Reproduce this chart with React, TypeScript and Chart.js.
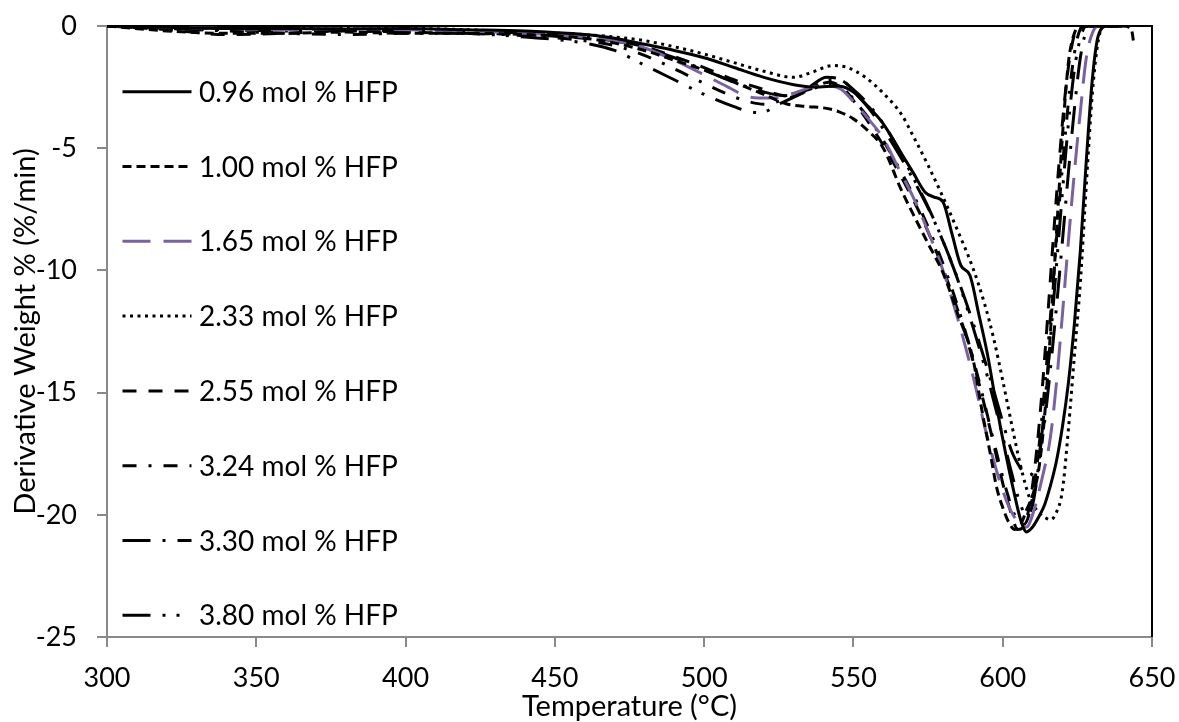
import React, { useEffect, useRef } from "react";
import { Chart, registerables } from "chart.js";

Chart.register(...registerables);

// ---------- DATA ----------
const seriesLabels = [
  "0.96 mol % HFP",
  "1.00 mol % HFP",
  "1.65 mol % HFP",
  "2.33 mol % HFP",
  "2.55 mol % HFP",
  "3.24 mol % HFP",
  "3.30 mol % HFP",
  "3.80 mol % HFP",
];

const xTicks = [300, 350, 400, 450, 500, 550, 600, 650];
const yTicks = [-25, -20, -15, -10, -5, 0];

const t096 = [300, 320, 340, 360, 380, 400, 420, 440, 460, 470, 480, 490, 500, 510, 520, 530, 537, 545, 550, 555, 560, 565, 570, 574, 577, 580, 583, 586, 589, 592, 595, 598, 601, 604, 606, 608, 610, 612, 614, 616, 618, 620, 622, 624, 626, 628, 630, 632, 635, 640];
const v096 = [0, -0.05, -0.1, -0.1, -0.12, -0.1, -0.15, -0.2, -0.35, -0.5, -0.75, -1.0, -1.3, -1.7, -2.1, -2.4, -2.5, -2.45, -2.7, -3.3, -4.0, -5.0, -6.0, -6.8, -7.0, -7.2, -8.5, -9.8, -10.2, -11.8, -13.5, -15.6, -17.5, -19.2, -20.2, -20.7, -20.5, -20.1, -19.6, -18.8, -17.8, -16.4, -14.6, -12.2, -9.2, -5.5, -2.2, -0.4, 0, 0];

const t100 = [300, 320, 340, 360, 380, 400, 420, 440, 460, 470, 480, 490, 500, 510, 520, 528, 535, 540, 545, 550, 555, 560, 566, 570, 575, 580, 585, 590, 593, 596, 598, 600, 602, 604, 606, 608, 610, 612, 614, 616, 618, 620, 622, 624, 626, 630, 635, 640, 643, 644];
const v100 = [0, -0.2, -0.3, -0.3, -0.25, -0.3, -0.3, -0.35, -0.5, -0.7, -1.0, -1.4, -1.8, -2.3, -2.8, -3.2, -3.3, -3.35, -3.5, -3.8, -4.3, -5.0, -6.7, -7.7, -8.9, -10.1, -11.8, -13.6, -15.7, -17.6, -18.9, -19.7, -20.3, -20.6, -20.4, -19.8, -19.2, -18.2, -16.0, -12.5, -8.5, -4.5, -1.5, -0.3, 0, 0, 0, 0, -0.1, -0.8];

const t165 = [300, 320, 340, 360, 380, 400, 420, 440, 460, 470, 480, 490, 500, 508, 515, 522, 530, 536, 541, 546, 550, 555, 560, 565, 570, 575, 580, 585, 590, 595, 600, 603, 606, 608, 610, 613, 616, 618, 620, 622, 624, 626, 628, 630, 632, 640];
const v165 = [0, -0.05, -0.1, -0.15, -0.1, -0.15, -0.2, -0.3, -0.45, -0.6, -0.9, -1.4, -2.0, -2.5, -2.9, -2.95, -2.75, -2.5, -2.45, -2.6, -3.1, -3.8, -4.6, -5.8, -7.0, -8.4, -10.0, -12.0, -14.3, -16.9, -19.0, -19.9, -20.4, -20.5, -20.0, -18.6, -16.8, -14.6, -11.8, -8.8, -6.0, -3.5, -1.3, -0.3, 0, 0];

const t233 = [300, 320, 340, 360, 380, 400, 420, 440, 460, 470, 480, 490, 500, 510, 520, 530, 536, 543, 548, 554, 560, 566, 570, 575, 580, 585, 590, 594, 597, 600, 603, 606, 609, 612, 614, 616, 618, 620, 622, 624, 626, 628, 630, 632, 634, 640];
const v233 = [0, -0.1, -0.1, -0.05, -0.1, -0.1, -0.15, -0.25, -0.35, -0.45, -0.6, -0.85, -1.15, -1.5, -1.85, -2.1, -1.9, -1.62, -1.7, -2.1, -2.75, -3.6, -4.5, -5.7, -7.0, -8.4, -9.9, -11.4, -12.8, -14.5, -16.3, -18.0, -19.3, -19.9, -20.1, -20.2, -19.9, -19.0, -16.5, -13.5, -10.5, -6.5, -2.8, -0.6, 0, 0];

const t255 = [300, 320, 340, 360, 380, 400, 420, 440, 460, 470, 480, 490, 500, 510, 520, 527, 535, 542, 547, 552, 557, 562, 567, 572, 577, 582, 587, 592, 596, 600, 603, 605, 607, 609, 611, 613, 615, 617, 619, 621, 623, 625, 630, 640];
const v255 = [0, -0.15, -0.35, -0.3, -0.2, -0.25, -0.3, -0.35, -0.5, -0.6, -0.85, -1.25, -1.7, -2.2, -2.6, -2.85, -2.6, -2.3, -2.6, -3.4, -4.3, -5.3, -6.4, -7.6, -9.0, -10.6, -12.4, -14.6, -16.6, -18.7, -20.0, -20.6, -20.5, -19.6, -17.8, -15.2, -12.0, -8.6, -5.4, -2.7, -0.9, -0.1, 0, 0];

const t324 = [300, 320, 340, 360, 380, 400, 420, 440, 460, 470, 480, 490, 500, 510, 515, 520, 527, 535, 542, 547, 552, 557, 562, 567, 572, 577, 582, 587, 592, 597, 601, 604, 607, 609, 611, 613, 615, 617, 619, 621, 623, 625, 627, 635, 640];
const v324 = [0, -0.1, -0.2, -0.3, -0.35, -0.3, -0.3, -0.4, -0.6, -0.8, -1.2, -1.75, -2.35, -2.9, -3.1, -3.2, -3.0, -2.65, -2.35, -2.6, -3.3, -4.1, -5.1, -6.2, -7.4, -8.8, -10.4, -12.3, -14.5, -17.0, -18.9, -20.0, -20.4, -19.9, -18.4, -16.2, -13.4, -10.3, -7.2, -4.4, -2.0, -0.5, 0, 0, 0];

const t330 = [300, 320, 340, 360, 380, 400, 420, 440, 460, 470, 480, 490, 500, 510, 520, 527, 535, 541, 546, 551, 556, 561, 566, 571, 576, 581, 586, 591, 596, 600, 603, 606, 608, 610, 612, 614, 616, 618, 620, 622, 624, 626, 628, 630, 640];
const v330 = [0, -0.05, -0.1, -0.1, -0.15, -0.2, -0.2, -0.3, -0.45, -0.6, -0.9, -1.3, -1.8, -2.3, -2.7, -2.85, -2.5, -2.1, -2.2, -2.8, -3.5, -4.4, -5.4, -6.5, -7.7, -9.1, -10.7, -12.5, -14.5, -16.2, -17.4, -18.1, -18.4, -18.3, -17.6, -16.2, -14.0, -11.5, -8.8, -6.0, -3.4, -1.3, -0.2, 0, 0];

const t380 = [300, 320, 340, 360, 380, 400, 420, 440, 460, 470, 480, 490, 500, 510, 515, 519, 525, 532, 540, 545, 550, 555, 560, 565, 570, 575, 580, 585, 590, 595, 600, 603, 606, 608, 610, 612, 614, 616, 618, 620, 622, 624, 626, 628, 640];
const v380 = [0, -0.1, -0.15, -0.2, -0.2, -0.25, -0.3, -0.45, -0.7, -1.0, -1.6, -2.2, -2.8, -3.3, -3.5, -3.55, -3.2, -2.8, -2.3, -2.2, -2.6, -3.2, -4.0, -5.0, -6.2, -7.4, -8.8, -10.4, -12.3, -14.4, -16.8, -18.3, -19.6, -20.0, -19.6, -18.0, -15.6, -12.8, -9.8, -6.8, -4.0, -1.8, -0.5, 0, 0];

const seriesTemps = [t096, t100, t165, t233, t255, t324, t330, t380];
const seriesValues = [v096, v100, v165, v233, v255, v324, v330, v380];

// ---------- STYLE ----------
const seriesColors = ["#000000", "#000000", "#7A62A0", "#000000", "#000000", "#000000", "#000000", "#000000"];
const seriesDashes: number[][] = [
  [],
  [9, 5],
  [28, 13],
  [3, 4.5],
  [14, 12],
  [14, 12, 3, 12],
  [28, 12, 3, 12],
  [28, 12, 3, 11, 3, 12],
];

const FONT = "Lato";
const TICK_FS = 27;
const LEGEND_FS = 28;
const TITLE_FS = 29;
const AXIS_GRAY = "#898989";

const insideLegend = {
  id: "insideLegend",
  afterDraw(chart: any) {
    const { ctx, chartArea } = chart;
    chart.data.datasets.forEach((ds: any, i: number) => {
      const y = chartArea.top + 65.7 + 74.8 * i;
      ctx.save();
      ctx.strokeStyle = ds.borderColor;
      ctx.lineWidth = 3;
      ctx.lineCap = "butt";
      ctx.setLineDash(ds.borderDash || []);
      ctx.beginPath();
      ctx.moveTo(chartArea.left + 15.5, y);
      ctx.lineTo(chartArea.left + 84.5, y);
      ctx.stroke();
      ctx.setLineDash([]);
      ctx.fillStyle = "#000";
      ctx.font = `${LEGEND_FS}px ${FONT}`;
      ctx.textBaseline = "middle";
      ctx.textAlign = "left";
      ctx.fillText(ds.label, chartArea.left + 92, y + 1);
      ctx.restore();
    });
  },
};

const frameBorder = {
  id: "frameBorder",
  beforeDatasetsDraw(chart: any) {
    const { ctx, chartArea } = chart;
    ctx.save();
    ctx.strokeStyle = "#000";
    ctx.lineWidth = 2;
    ctx.beginPath();
    ctx.moveTo(chartArea.left, chartArea.top);
    ctx.lineTo(chartArea.right, chartArea.top);
    ctx.lineTo(chartArea.right, chartArea.bottom);
    ctx.stroke();
    ctx.restore();
  },
};

export default function App() {
  const ref = useRef<HTMLCanvasElement | null>(null);

  useEffect(() => {
    if (!ref.current) return;
    Chart.defaults.font.family = FONT;
    const datasets = seriesLabels.map((label, i) => ({
      label,
      data: seriesTemps[i].map((t, k) => ({ x: t, y: seriesValues[i][k] })),
      borderColor: seriesColors[i],
      backgroundColor: seriesColors[i],
      borderDash: seriesDashes[i],
      borderWidth: 3,
      pointRadius: 0,
      cubicInterpolationMode: "monotone" as const,
      fill: false,
    }));

    const chart = new Chart(ref.current, {
      type: "line",
      data: { datasets },
      plugins: [frameBorder, insideLegend],
      options: {
        responsive: false,
        animation: false,
        layout: { padding: { top: 26, right: 27, left: 0, bottom: 0 } },
        plugins: { legend: { display: false }, tooltip: { enabled: false } },
        scales: {
          x: {
            type: "linear",
            min: 300,
            max: 650,
            afterBuildTicks: (s: any) => {
              s.ticks = xTicks.map((v) => ({ value: v }));
            },
            afterFit: (s: any) => {
              s.height = 85;
              s.paddingLeft = 0;
              s.paddingRight = 0;
            },
            ticks: { color: "#000", font: { size: TICK_FS, family: FONT }, padding: 15, maxRotation: 0 },
            grid: { drawOnChartArea: false, drawTicks: true, tickLength: 10, color: AXIS_GRAY, lineWidth: 2 },
            border: { color: AXIS_GRAY, width: 2 },
            title: {
              display: true,
              text: "Temperature (°C)",
              color: "#000",
              font: { size: TITLE_FS, family: FONT },
              padding: { top: 0, bottom: -2 },
            },
          },
          y: {
            type: "linear",
            min: -25,
            max: 0,
            afterBuildTicks: (s: any) => {
              s.ticks = yTicks.map((v) => ({ value: v }));
            },
            afterFit: (s: any) => {
              s.width = 107;
              s.paddingTop = 0;
              s.paddingBottom = 0;
            },
            ticks: { color: "#000", font: { size: TICK_FS, family: FONT }, padding: 20 },
            grid: { drawOnChartArea: false, drawTicks: true, tickLength: 10, color: AXIS_GRAY, lineWidth: 2 },
            border: { color: AXIS_GRAY, width: 2 },
            title: {
              display: true,
              text: "Derivative Weight % (%/min)",
              color: "#000",
              font: { size: TITLE_FS, family: FONT },
              padding: { top: 8, bottom: 0 },
            },
          },
        },
      },
    });
    return () => chart.destroy();
  }, []);

  return (
    <div style={{ position: "fixed", left: 0, top: 0, width: 1179, height: 722, background: "#fff" }}>
      <canvas ref={ref} width={1179} height={722} style={{ display: "block", width: 1179, height: 722 }} />
    </div>
  );
}
